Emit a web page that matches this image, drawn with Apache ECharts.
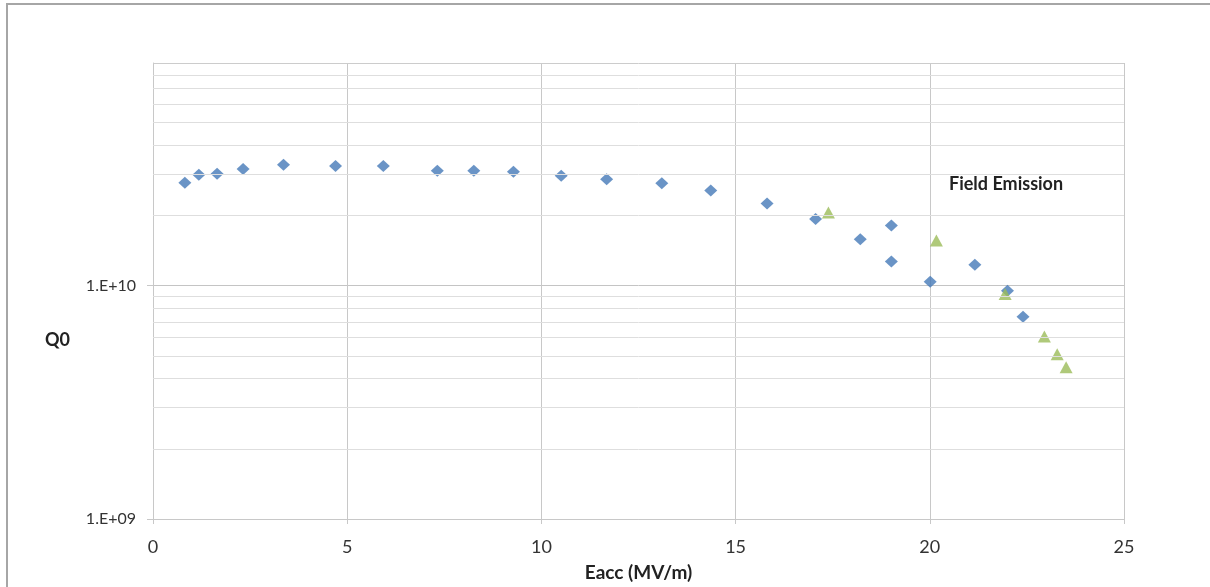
<!DOCTYPE html>
<html>
<head>
<meta charset="utf-8">
<script src="https://cdn.jsdelivr.net/npm/echarts@6/dist/echarts.min.js"></script>
<style>
  html, body { margin: 0; padding: 0; background: #fff; }
  #main { width: 1210px; height: 587px; }
</style>
</head>
<body>
<div id="main"></div>
<script>
// Eacc (MV/m) vs Q0
var blueEacc = [0.82, 1.18, 1.65, 2.32, 3.36, 4.70, 5.93, 7.32, 8.26, 9.28, 10.51, 11.68, 13.10, 14.36, 15.81, 17.06, 18.21, 19.01, 19.01, 20.01, 21.16, 22.00, 22.40];
var blueQ0 = [2.76e10, 2.99e10, 3.02e10, 3.16e10, 3.30e10, 3.26e10, 3.26e10, 3.11e10, 3.11e10, 3.08e10, 2.96e10, 2.86e10, 2.75e10, 2.56e10, 2.25e10, 1.93e10, 1.58e10, 1.81e10, 1.27e10, 1.04e10, 1.23e10, 9.5e9, 7.36e9];

var greenEacc = [17.39, 20.17, 21.94, 22.95, 23.28, 23.51];
var greenQ0 = [2.06e10, 1.56e10, 9.2e9, 6.05e9, 5.08e9, 4.47e9];

var xTicks = [0, 5, 10, 15, 20, 25];
var yMajor = [1e9, 1e10];
var yMinor = [2e9, 3e9, 4e9, 5e9, 6e9, 7e9, 8e9, 9e9, 2e10, 3e10, 4e10, 5e10, 6e10, 7e10, 8e10];
var yTop = 9e10;

function zip(xs, ys) {
  return xs.map(function (x, i) { return [x, ys[i]]; });
}

var font = 'Lato, "Open Sans", sans-serif';

var chart = echarts.init(document.getElementById('main'));
var option = {
  animation: false,
  backgroundColor: '#fff',
  grid: { left: 153, right: 86, top: 63, bottom: 68 },
  graphic: [
    {
      type: 'rect',
      shape: { x: 7, y: 4, width: 1300, height: 700 },
      style: { fill: 'none', stroke: '#a6a6a6', lineWidth: 2 },
      silent: true
    },
    {
      type: 'text',
      left: 45, top: 331,
      style: { text: 'Q0', font: 'bold 18px ' + font, fill: '#222' }
    },
    {
      type: 'text',
      left: 949, top: 175,
      style: { text: 'Field Emission', font: 'bold 18px ' + font, fill: '#222' }
    }
  ],
  xAxis: {
    type: 'value',
    min: xTicks[0],
    max: xTicks[xTicks.length - 1],
    interval: 5,
    name: 'Eacc (MV/m)',
    nameLocation: 'middle',
    nameGap: 44,
    nameTextStyle: { fontFamily: font, fontWeight: 'bold', fontSize: 19, color: '#222' },
    axisLine: { lineStyle: { color: '#c8c8c8', width: 1 } },
    axisTick: { show: true, length: 5, lineStyle: { color: '#c8c8c8' } },
    axisLabel: { fontFamily: font, fontSize: 18, color: '#333', margin: 19 },
    splitLine: { show: true, lineStyle: { color: '#c8c8c8', width: 1 } }
  },
  yAxis: {
    type: 'log',
    logBase: 10,
    min: yMajor[0],
    max: yTop,
    axisLine: { show: true, lineStyle: { color: '#c8c8c8', width: 1 } },
    axisTick: { show: true, length: 6, customValues: yMajor, lineStyle: { color: '#c8c8c8' } },
    axisLabel: {
      fontFamily: font, fontSize: 16, color: '#333', margin: 17,
      customValues: yMajor,
      formatter: function (v) {
        var e = Math.round(Math.log10(v));
        return '1.E+' + (e < 10 ? '0' + e : e);
      }
    },
    splitLine: { show: true, lineStyle: { color: '#c4c4c4', width: 1 } }
  },
  series: [
    {
      type: 'line',
      data: [],
      silent: true,
      markLine: {
        silent: true,
        symbol: 'none',
        label: { show: false },
        lineStyle: { color: '#dedede', width: 1, type: 'solid' },
        data: yMinor.map(function (v) { return { yAxis: v }; }).concat([
          { yAxis: yTop, lineStyle: { color: '#cccccc', width: 1 } }
        ])
      }
    },
    {
      name: 'Q0',
      type: 'scatter',
      symbol: 'diamond',
      symbolSize: [13, 12],
      itemStyle: { color: '#4579b8' },
      data: zip(blueEacc, blueQ0)
    },
    {
      name: 'Field Emission',
      type: 'scatter',
      symbol: 'triangle',
      symbolSize: [13, 12],
      itemStyle: { color: '#9bbb59' },
      data: zip(greenEacc, greenQ0)
    }
  ]
};
chart.setOption(option);
</script>
</body>
</html>
